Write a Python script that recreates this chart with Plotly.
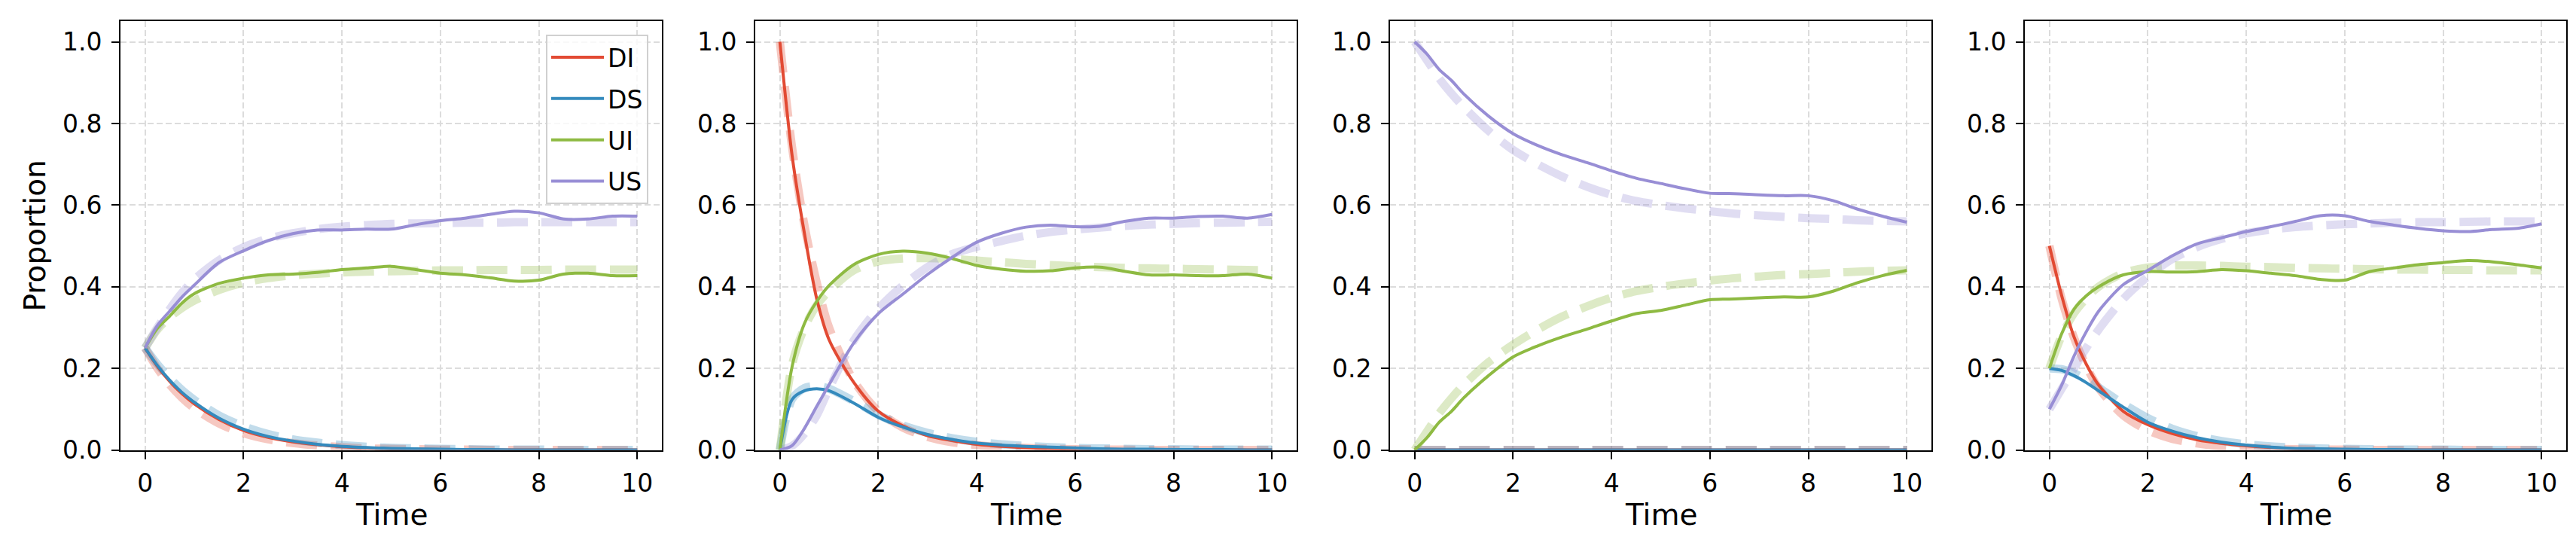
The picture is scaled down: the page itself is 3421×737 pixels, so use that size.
import plotly.graph_objects as go

W, H = 3421, 737

# shared time grid
t = [0, 0.25, 0.5, 0.75, 1, 1.5, 2, 2.5, 3, 3.5, 4, 4.5, 5, 5.5, 6, 6.5, 7, 7.5, 8, 8.5, 9, 9.5, 10]

states = ["DI", "DS", "UI", "US"]
colors = ["#E24A33", "#348ABD", "#8EBA42", "#988ED5"]
faded = ["rgba(226,74,51,0.3)", "rgba(52,138,189,0.3)", "rgba(142,186,66,0.3)", "rgba(152,142,213,0.3)"]

x_ticks = [0, 2, 4, 6, 8, 10]
y_ticks = [0.0, 0.2, 0.4, 0.6, 0.8, 1.0]

# panel 1 - simulation (solid) and theory (dashed)
p1_sim_DI = [0.25, 0.205, 0.168, 0.138, 0.113, 0.075, 0.048, 0.031, 0.02, 0.013, 0.008, 0.005, 0.003, 0.002, 0.001, 0.0, 0, 0, 0, 0, 0, 0, 0]
p1_sim_DS = [0.25, 0.207, 0.171, 0.141, 0.117, 0.078, 0.051, 0.033, 0.022, 0.014, 0.009, 0.006, 0.004, 0.003, 0.002, 0.001, 0.001, 0, 0, 0, 0, 0, 0]
p1_sim_UI = [0.25, 0.298, 0.328, 0.36, 0.383, 0.408, 0.421, 0.429, 0.431, 0.435, 0.442, 0.446, 0.45, 0.442, 0.433, 0.429, 0.422, 0.414, 0.416, 0.431, 0.433, 0.427, 0.427]
p1_sim_US = [0.25, 0.305, 0.34, 0.375, 0.404, 0.459, 0.488, 0.513, 0.53, 0.539, 0.539, 0.541, 0.541, 0.552, 0.562, 0.568, 0.577, 0.585, 0.581, 0.566, 0.566, 0.573, 0.573]
p1_th_DI = [0.25, 0.2, 0.16, 0.128, 0.102, 0.065, 0.041, 0.026, 0.017, 0.011, 0.007, 0.004, 0.003, 0.002, 0.001, 0.001, 0, 0, 0, 0, 0, 0, 0]
p1_th_DS = [0.25, 0.21, 0.176, 0.147, 0.123, 0.085, 0.058, 0.039, 0.026, 0.018, 0.012, 0.008, 0.005, 0.004, 0.003, 0.002, 0.001, 0.001, 0.001, 0, 0, 0, 0]
p1_th_UI = [0.25, 0.295, 0.325, 0.348, 0.366, 0.392, 0.41, 0.421, 0.428, 0.432, 0.435, 0.437, 0.438, 0.439, 0.44, 0.44, 0.441, 0.441, 0.441, 0.442, 0.442, 0.442, 0.442]
p1_th_US = [0.25, 0.3, 0.345, 0.385, 0.418, 0.465, 0.497, 0.518, 0.531, 0.541, 0.547, 0.551, 0.554, 0.555, 0.556, 0.557, 0.557, 0.558, 0.558, 0.558, 0.558, 0.558, 0.558]

# panel 2
p2_sim_DI = [1.0, 0.72, 0.53, 0.37, 0.27, 0.166, 0.095, 0.059, 0.035, 0.023, 0.014, 0.009, 0.006, 0.004, 0.003, 0.002, 0.001, 0.001, 0, 0, 0, 0, 0]
p2_sim_DS = [0.0, 0.124, 0.145, 0.15, 0.145, 0.115, 0.08, 0.056, 0.038, 0.026, 0.017, 0.012, 0.009, 0.007, 0.005, 0.003, 0.002, 0.002, 0.001, 0.001, 0.001, 0, 0]
p2_sim_UI = [0.0, 0.205, 0.31, 0.364, 0.403, 0.454, 0.479, 0.487, 0.482, 0.469, 0.452, 0.443, 0.438, 0.439, 0.446, 0.448, 0.438, 0.429, 0.429, 0.427, 0.427, 0.431, 0.421]
p2_sim_US = [0.0, 0.011, 0.053, 0.107, 0.16, 0.262, 0.334, 0.382, 0.43, 0.472, 0.509, 0.531, 0.546, 0.551, 0.547, 0.548, 0.56, 0.568, 0.568, 0.572, 0.573, 0.568, 0.577]
p2_th_DI = [1.0, 0.74, 0.55, 0.41, 0.3, 0.17, 0.095, 0.055, 0.032, 0.019, 0.012, 0.007, 0.005, 0.003, 0.002, 0.001, 0.001, 0, 0, 0, 0, 0, 0]
p2_th_DS = [0.0, 0.125, 0.152, 0.157, 0.15, 0.12, 0.086, 0.06, 0.042, 0.029, 0.02, 0.014, 0.01, 0.007, 0.005, 0.004, 0.003, 0.002, 0.002, 0.001, 0.001, 0.001, 0.001]
p2_th_UI = [0.0, 0.21, 0.3, 0.355, 0.39, 0.44, 0.462, 0.469, 0.47, 0.468, 0.464, 0.46, 0.456, 0.453, 0.45, 0.448, 0.446, 0.445, 0.444, 0.443, 0.442, 0.441, 0.44]
p2_th_US = [0.0, 0.01, 0.04, 0.085, 0.15, 0.268, 0.346, 0.403, 0.448, 0.48, 0.498, 0.512, 0.525, 0.534, 0.54, 0.545, 0.549, 0.552, 0.554, 0.556, 0.557, 0.558, 0.559]

# panel 3
p3_sim_DI = [0] * 23
p3_sim_DS = [0] * 23
p3_sim_UI = [0.0, 0.03, 0.068, 0.095, 0.128, 0.182, 0.228, 0.255, 0.277, 0.296, 0.316, 0.334, 0.342, 0.355, 0.368, 0.37, 0.373, 0.375, 0.375, 0.389, 0.41, 0.427, 0.44]
p3_sim_US = [1.0, 0.97, 0.932, 0.905, 0.872, 0.818, 0.775, 0.746, 0.723, 0.704, 0.684, 0.666, 0.653, 0.64, 0.629, 0.628, 0.625, 0.623, 0.623, 0.611, 0.59, 0.573, 0.558]
p3_th_DI = [0] * 23
p3_th_DS = [0] * 23
p3_th_UI = [0.0, 0.045, 0.09, 0.127, 0.16, 0.215, 0.258, 0.295, 0.327, 0.352, 0.373, 0.389, 0.4, 0.408, 0.415, 0.421, 0.425, 0.429, 0.431, 0.434, 0.437, 0.439, 0.44]
p3_th_US = [1.0, 0.955, 0.91, 0.873, 0.84, 0.782, 0.735, 0.7, 0.67, 0.645, 0.625, 0.61, 0.6, 0.592, 0.585, 0.579, 0.575, 0.571, 0.568, 0.566, 0.563, 0.561, 0.56]

# panel 4
p4_sim_DI = [0.5, 0.378, 0.277, 0.21, 0.159, 0.095, 0.062, 0.04, 0.025, 0.016, 0.01, 0.006, 0.003, 0.002, 0.001, 0.001, 0, 0, 0, 0, 0, 0, 0]
p4_sim_DS = [0.2, 0.195, 0.182, 0.165, 0.145, 0.105, 0.068, 0.046, 0.03, 0.019, 0.012, 0.007, 0.004, 0.003, 0.002, 0.001, 0.001, 0, 0, 0, 0, 0, 0]
p4_sim_UI = [0.2, 0.285, 0.345, 0.378, 0.4, 0.429, 0.437, 0.436, 0.437, 0.442, 0.439, 0.433, 0.427, 0.418, 0.416, 0.437, 0.446, 0.454, 0.459, 0.464, 0.461, 0.454, 0.446]
p4_sim_US = [0.1, 0.159, 0.23, 0.29, 0.34, 0.405, 0.44, 0.476, 0.505, 0.52, 0.535, 0.547, 0.56, 0.574, 0.574, 0.56, 0.551, 0.543, 0.537, 0.535, 0.54, 0.543, 0.554]
p4_th_DI = [0.5, 0.37, 0.275, 0.205, 0.152, 0.085, 0.048, 0.027, 0.016, 0.009, 0.005, 0.003, 0.002, 0.001, 0.001, 0, 0, 0, 0, 0, 0, 0, 0]
p4_th_DS = [0.2, 0.198, 0.188, 0.172, 0.153, 0.113, 0.078, 0.052, 0.034, 0.022, 0.014, 0.009, 0.006, 0.004, 0.003, 0.002, 0.001, 0.001, 0.001, 0, 0, 0, 0]
p4_th_UI = [0.2, 0.28, 0.335, 0.372, 0.4, 0.433, 0.447, 0.452, 0.452, 0.451, 0.449, 0.448, 0.446, 0.445, 0.444, 0.443, 0.442, 0.442, 0.441, 0.441, 0.44, 0.44, 0.44]
p4_th_US = [0.1, 0.15, 0.2, 0.25, 0.295, 0.37, 0.425, 0.468, 0.497, 0.517, 0.531, 0.54, 0.546, 0.55, 0.553, 0.555, 0.557, 0.558, 0.558, 0.559, 0.56, 0.56, 0.56]

panels = [
    ([p1_sim_DI, p1_sim_DS, p1_sim_UI, p1_sim_US], [p1_th_DI, p1_th_DS, p1_th_UI, p1_th_US]),
    ([p2_sim_DI, p2_sim_DS, p2_sim_UI, p2_sim_US], [p2_th_DI, p2_th_DS, p2_th_UI, p2_th_US]),
    ([p3_sim_DI, p3_sim_DS, p3_sim_UI, p3_sim_US], [p3_th_DI, p3_th_DS, p3_th_UI, p3_th_US]),
    ([p4_sim_DI, p4_sim_DS, p4_sim_UI, p4_sim_US], [p4_th_DI, p4_th_DS, p4_th_UI, p4_th_US]),
]

# pixel layout of the axes boxes
left0, pw, pitch = 152, 719, 843
top, bottom = 21, 606

FONT = "DejaVu Sans"
fig = go.Figure()
layout = {}
annotations = []

for i, (sims, ths) in enumerate(panels):
    n = "" if i == 0 else str(i + 1)
    xa, ya = "x" + n, "y" + n
    x0 = left0 + i * pitch
    dom = [x0 / W, (x0 + pw) / W]

    for k in range(4):
        fig.add_trace(go.Scatter(
            x=t, y=ths[k], xaxis=xa, yaxis=ya, mode="lines",
            line=dict(color=faded[k], width=11, dash="41px,18px", shape="spline", smoothing=0.8),
            showlegend=False, hoverinfo="skip"))
    for k in range(4):
        fig.add_trace(go.Scatter(
            x=t, y=sims[k], xaxis=xa, yaxis=ya, mode="lines", name=states[k],
            legendgroup=states[k],
            line=dict(color=colors[k], width=4, shape="spline", smoothing=0.8),
            showlegend=(i == 0)))

    common = dict(showline=True, mirror=True, linecolor="black", linewidth=2,
                  ticks="outside", ticklen=10, tickwidth=2, tickcolor="black",
                  showgrid=True, gridcolor="#dcdcdc", gridwidth=2, griddash="8px,4px",
                  zeroline=False, layer="below traces",
                  tickfont=dict(family=FONT, size=33, color="black"))
    layout["xaxis" + n] = dict(common, domain=dom, anchor=ya, range=[-0.5, 10.5],
                               tickvals=x_ticks, ticklabelstandoff=4)
    layout["yaxis" + n] = dict(common, domain=[1 - bottom / H, 1 - top / H], anchor=xa,
                               range=[0, 1.05], tickvals=y_ticks, tickformat=".1f",
                               ticklabelstandoff=6)

    annotations.append(dict(text="Time", xref="paper", yref="paper",
                            x=(x0 + pw / 2) / W, y=1 - 694 / H, showarrow=False,
                            xanchor="center", yanchor="middle",
                            font=dict(family=FONT, size=39, color="black")))

annotations.append(dict(text="Proportion", xref="paper", yref="paper",
                        x=38 / W, y=1 - 314 / H, showarrow=False, textangle=-90,
                        xanchor="center", yanchor="middle",
                        font=dict(family=FONT, size=39, color="black")))

fig.update_layout(
    width=W, height=H, margin=dict(l=0, r=0, t=0, b=0),
    paper_bgcolor="white", plot_bgcolor="white",
    annotations=annotations,
    legend=dict(x=853 / W, y=1 - 39 / H, xanchor="right", yanchor="top",
                traceorder="grouped", tracegroupgap=9, itemwidth=70,
                bgcolor="rgba(255,255,255,0.8)", bordercolor="#d0d0d0", borderwidth=2,
                font=dict(family=FONT, size=33, color="black")),
    **layout,
)

fig.write_html("out.html")
